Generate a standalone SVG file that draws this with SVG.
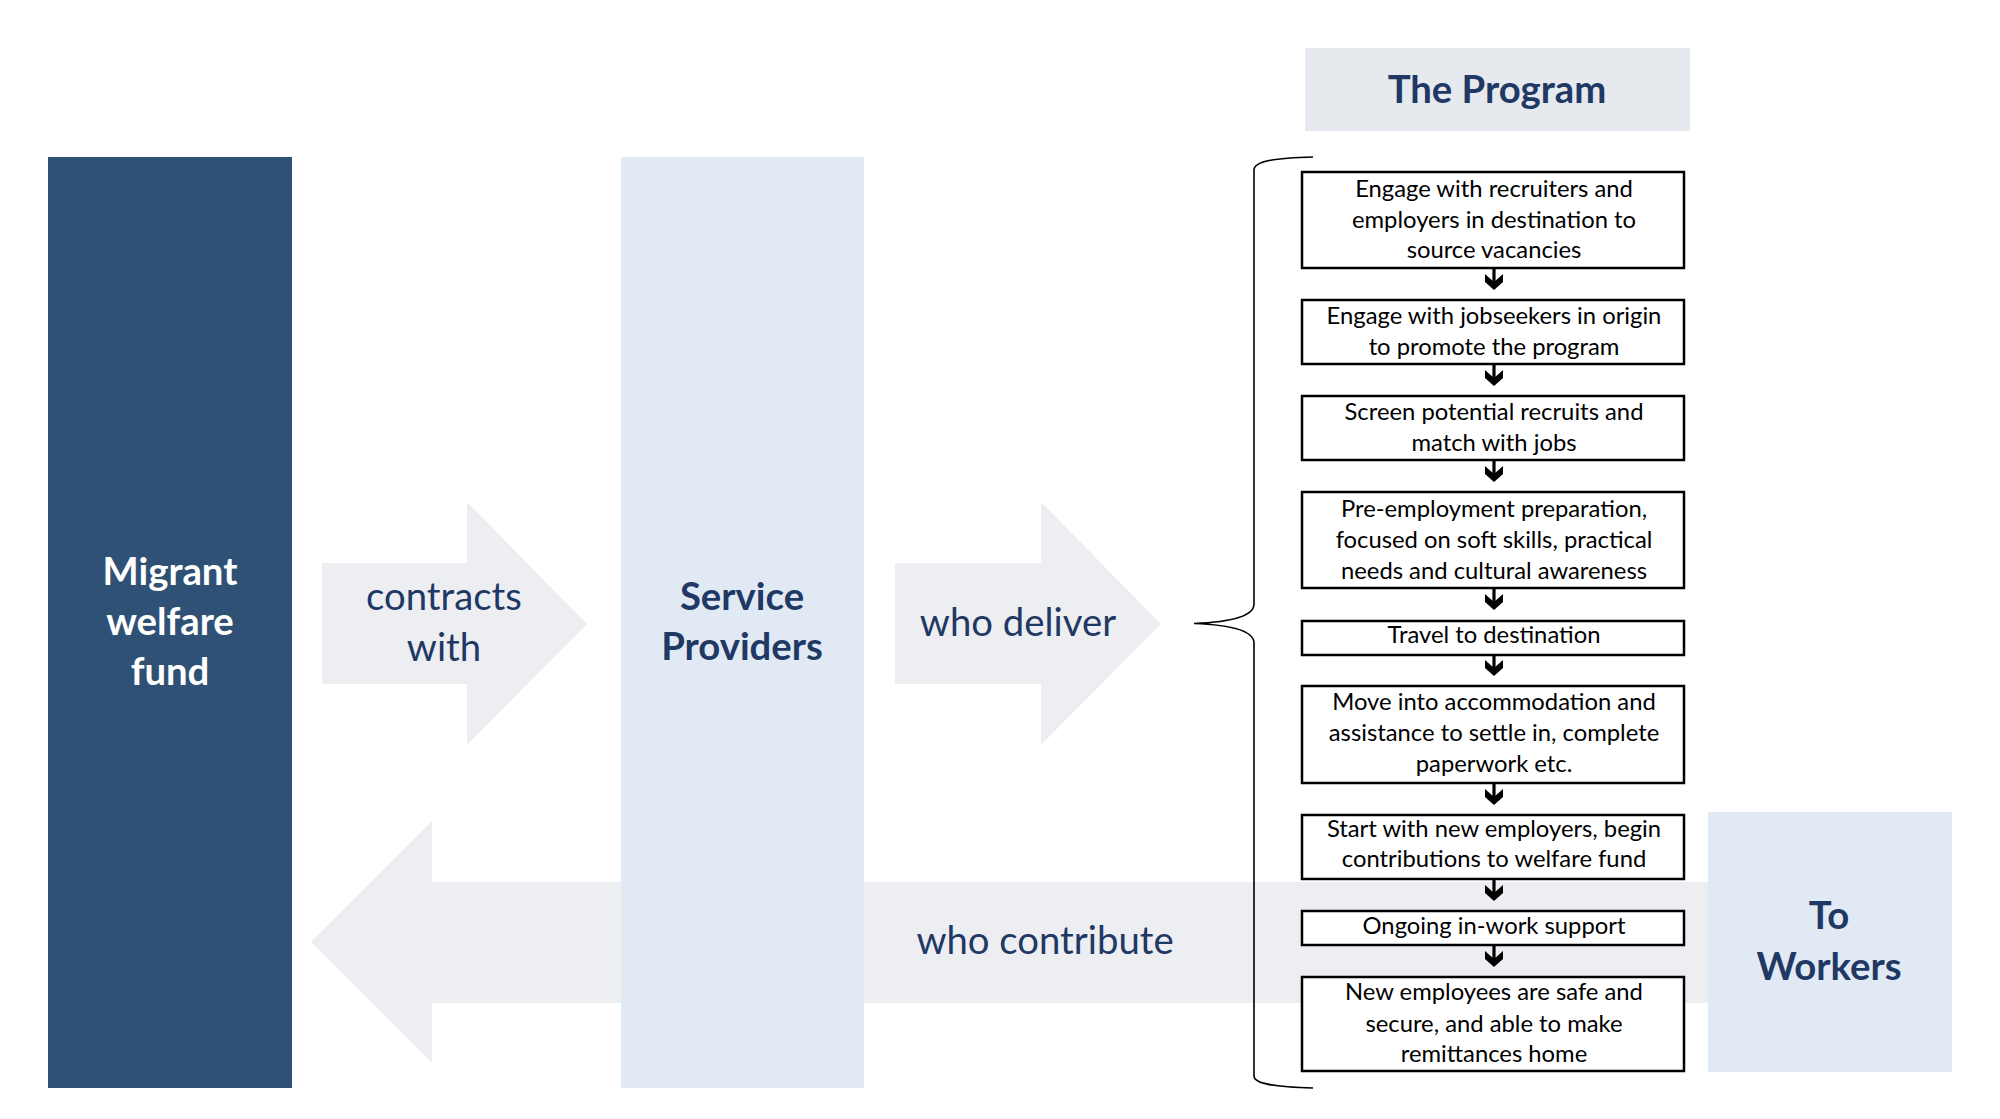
<svg xmlns="http://www.w3.org/2000/svg" width="2000" height="1119" viewBox="0 0 2000 1119">
<style>
.lbl{font-family:Lato,"Liberation Sans",sans-serif;font-size:38.3px;fill:#1F3864;text-anchor:middle}
.bold{font-weight:bold}
.wht{fill:#FFFFFF}
.box{fill:#FFFFFF;stroke:#000000;stroke-width:2.5}
.bt{font-family:Lato,"Liberation Sans",sans-serif;font-size:23.8px;fill:#000000;text-anchor:middle}
.flow{fill:#ECEEF2}
.conn{stroke:#000000;stroke-width:3.2;fill:none;marker-end:url(#chev)}
</style>
<defs>
<marker id="chev" markerUnits="userSpaceOnUse" markerWidth="26" markerHeight="26" viewBox="-13 -13 26 26" refX="0" refY="0" orient="auto">
<path d="M-9,-10 L0,-2 L9,-10 L9,-2 L0,6 L-9,-2 Z" fill="#000000" transform="rotate(-90)"/>
</marker>
</defs>
<rect width="2000" height="1119" fill="#FFFFFF"/>

<g id="arrow-contribute">
<polygon class="flow" points="1720,882 432,882 432,821 311,942 432,1063 432,1003 1720,1003"/>
<text class="lbl" x="1045" y="954">who contribute</text>
</g>
<g id="arrow-contracts">
<polygon class="flow" points="322,563 467,563 467,502 587,624 467,745 467,684 322,684"/>
<text class="lbl" x="444" y="610">contracts</text>
<text class="lbl" x="444" y="661">with</text>
</g>
<g id="arrow-deliver">
<polygon class="flow" points="895,563 1041,563 1041,502 1161,624 1041,745 1041,684 895,684"/>
<text class="lbl" x="1018" y="636">who deliver</text>
</g>

<g id="migrant-fund">
<rect x="48" y="157" width="244" height="931" fill="#2F5175"/>
<text class="lbl bold wht" x="170" y="585">Migrant</text>
<text class="lbl bold wht" x="170" y="635">welfare</text>
<text class="lbl bold wht" x="170" y="685">fund</text>
</g>
<g id="service-providers">
<rect x="621" y="157" width="243" height="931" fill="#E1E9F5"/>
<text class="lbl bold" x="742" y="610">Service</text>
<text class="lbl bold" x="742" y="660">Providers</text>
</g>
<g id="to-workers">
<rect x="1708" y="812" width="244" height="260" fill="#E1E9F5"/>
<text class="lbl bold" x="1829" y="929">To</text>
<text class="lbl bold" x="1829" y="980">Workers</text>
</g>
<g id="program-title">
<rect x="1305" y="48" width="385" height="83" fill="#E6E9EE"/>
<text class="lbl bold" x="1497" y="103">The Program</text>
</g>

<g id="brace">
<path d="M1313,157 C1275,158 1254,161 1254,170 L1254,604 C1254,616 1232,622 1194,623.5 C1232,625 1254,631 1254,643 L1254,1076 C1254,1084 1275,1087 1313,1088" fill="none" stroke="#000000" stroke-width="1.6"/>
</g>

<g id="connectors">
<line class="conn" x1="1494" y1="269" x2="1494" y2="284"/>
<line class="conn" x1="1494" y1="365" x2="1494" y2="380"/>
<line class="conn" x1="1494" y1="461" x2="1494" y2="476"/>
<line class="conn" x1="1494" y1="589" x2="1494" y2="604"/>
<line class="conn" x1="1494" y1="655" x2="1494" y2="670"/>
<line class="conn" x1="1494" y1="784" x2="1494" y2="799"/>
<line class="conn" x1="1494" y1="880" x2="1494" y2="895"/>
<line class="conn" x1="1494" y1="946" x2="1494" y2="961"/>
</g>

<g id="step1">
<rect class="box" x="1302" y="172" width="382" height="96"/>
<text class="bt" x="1494" y="197">Engage with recruiters and</text>
<text class="bt" x="1494" y="228">employers in destination to</text>
<text class="bt" x="1494" y="258">source vacancies</text>
</g>
<g id="step2">
<rect class="box" x="1302" y="300" width="382" height="64"/>
<text class="bt" x="1494" y="324">Engage with jobseekers in origin</text>
<text class="bt" x="1494" y="355">to promote the program</text>
</g>
<g id="step3">
<rect class="box" x="1302" y="396" width="382" height="64"/>
<text class="bt" x="1494" y="420">Screen potential recruits and</text>
<text class="bt" x="1494" y="451">match with jobs</text>
</g>
<g id="step4">
<rect class="box" x="1302" y="492" width="382" height="96"/>
<text class="bt" x="1494" y="517">Pre-employment preparation,</text>
<text class="bt" x="1494" y="548">focused on soft skills, practical</text>
<text class="bt" x="1494" y="579">needs and cultural awareness</text>
</g>
<g id="step5">
<rect class="box" x="1302" y="621" width="382" height="34"/>
<text class="bt" x="1494" y="643">Travel to destination</text>
</g>
<g id="step6">
<rect class="box" x="1302" y="686" width="382" height="97"/>
<text class="bt" x="1494" y="710">Move into accommodation and</text>
<text class="bt" x="1494" y="741">assistance to settle in, complete</text>
<text class="bt" x="1494" y="772">paperwork etc.</text>
</g>
<g id="step7">
<rect class="box" x="1302" y="815" width="382" height="64"/>
<text class="bt" x="1494" y="837">Start with new employers, begin</text>
<text class="bt" x="1494" y="867">contributions to welfare fund</text>
</g>
<g id="step8">
<rect class="box" x="1302" y="911" width="382" height="34"/>
<text class="bt" x="1494" y="934">Ongoing in-work support</text>
</g>
<g id="step9">
<rect class="box" x="1302" y="977" width="382" height="94"/>
<text class="bt" x="1494" y="1000">New employees are safe and</text>
<text class="bt" x="1494" y="1032">secure, and able to make</text>
<text class="bt" x="1494" y="1062">remittances home</text>
</g>
</svg>
